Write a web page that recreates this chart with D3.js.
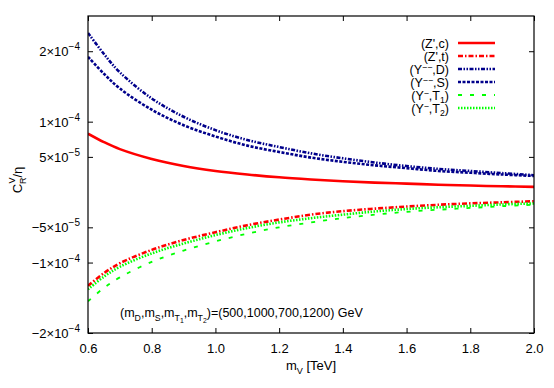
<!DOCTYPE html>
<html>
<head>
<meta charset="utf-8">
<script src="https://cdn.jsdelivr.net/npm/d3@7"></script>
<style>
html,body{margin:0;padding:0;background:#fff;}
svg{display:block;}
text{font-family:"Liberation Sans",Arial,Helvetica,sans-serif;fill:#000;}
</style>
</head>
<body>
<svg id="chart" width="554" height="388"></svg>
<script>
// x values (TeV)
const mV = [0.6,0.65,0.7,0.8,0.9,1.0,1.1,1.2,1.3,1.4,1.5,1.6,1.7,1.8,1.9,2.0];
// series values in units of 1e-6
const ZpC  = [83,71,61,47,37,30,25,21,18,15.5,13.5,12,10.5,9.3,8.3,7.5];
const ZpT  = [-133,-115,-101,-82,-68,-57,-47,-39,-32,-27,-23.5,-20.5,-18,-16,-14.5,-13];
const YmmD = [226,196,170,133,107,88,74,64,55,48,42,37,33,30,27,24];
const YmmS = [192,168,147,117,95,79,66,57,49,43,38,34,30,27.5,25,23];
const YmT1 = [-155,-136,-121,-99,-83,-70,-59,-50,-43,-37,-32,-28,-25,-22.5,-20,-18];
const YmT2 = [-138,-120,-106,-87,-73,-61,-51,-43,-37,-32,-27.5,-24,-21.5,-19.5,-17.5,-16];
const scale = 1e-6;

const xTicks = [0.6,0.8,1.0,1.2,1.4,1.6,1.8,2.0];
const yTicks = [2e-4,1e-4,5e-5,-5e-5,-1e-4,-2e-4];
const yTickLabels = [["2","−4"],["1","−4"],["5","−5"],["−5","−5"],["−1","−4"],["−2","−4"]];

const series = [
  {key:"c",  vals:ZpC,  color:"#ff0000", dash:null,            width:2.6, label:[["(Z',c)",null]]},
  {key:"t",  vals:ZpT,  color:"#ff0000", dash:"5,2,1.5,2",     width:2.6, label:[["(Z',t)",null]]},
  {key:"D",  vals:YmmD, color:"#00008b", dash:"4,1.5,1.5,1.5,1.5,1.5", width:2.6, label:[["(Y",null],["−−","sup"],[",D)",null]]},
  {key:"S",  vals:YmmS, color:"#00008b", dash:"3,1.5",         width:2.6, label:[["(Y",null],["−−","sup"],[",S)",null]]},
  {key:"T1", vals:YmT1, color:"#00ff00", dash:"4,8",           width:1.8, label:[["(Y",null],["−","sup"],[",T",null],["1","sub"],[")",null]]},
  {key:"T2", vals:YmT2, color:"#00ff00", dash:"1.5,1.5",       width:2.6, label:[["(Y",null],["−","sup"],[",T",null],["2","sub"],[")",null]]}
];

const svg = d3.select("#chart");
const L = 88, R = 534, T = 16, B = 333;
const x = d3.scaleLinear().domain([0.6,2.0]).range([L,R]);
const y = d3.scaleLinear().domain([-2e-4,2.5e-4]).range([B,T]);

svg.append("clipPath").attr("id","clip").append("rect")
  .attr("x",L).attr("y",T).attr("width",R-L).attr("height",B-T);

// rich text helper: parts [[text, kind]] kind in null|sup|sub|subsub
function rich(t, parts, fs){
  let base = 0;
  parts.forEach(([txt,kind])=>{
    const target = kind==="sup"?-4:(kind==="sub"?3.5:(kind==="subsub"?6:0));
    const sp = t.append("tspan").text(txt).attr("dy",target-base);
    if(kind==="sup"||kind==="sub") sp.attr("font-size",fs*0.7);
    if(kind==="subsub") sp.attr("font-size",fs*0.55);
    base = target;
  });
}

// axes (ticks inward, mirrored)
const gB = svg.append("g").attr("transform",`translate(0,${B})`)
  .call(d3.axisBottom(x).tickValues(xTicks).tickSizeInner(-5).tickSizeOuter(0).tickPadding(8).tickFormat(d3.format(".1f")));
const gT = svg.append("g").attr("transform",`translate(0,${T})`)
  .call(d3.axisTop(x).tickValues(xTicks).tickSizeInner(-5).tickSizeOuter(0).tickFormat(""));
const gL = svg.append("g").attr("transform",`translate(${L},0)`)
  .call(d3.axisLeft(y).tickValues(yTicks).tickSizeInner(-5).tickSizeOuter(0).tickFormat(""));
const gR = svg.append("g").attr("transform",`translate(${R},0)`)
  .call(d3.axisRight(y).tickValues(yTicks).tickSizeInner(-5).tickSizeOuter(0).tickFormat(""));
[gB,gT,gL,gR].forEach(g=>{
  g.select(".domain").remove();
  g.selectAll(".tick line").attr("stroke","#000").attr("stroke-width",1);
});
gB.selectAll(".tick text").attr("font-size",13).attr("font-family","Liberation Sans, Arial, sans-serif").attr("dy","0.9em");

// y tick labels with superscripts
yTicks.forEach((v,i)=>{
  const t = svg.append("text").attr("x",80).attr("y",y(v)+5).attr("text-anchor","end").attr("font-size",13);
  t.append("tspan").text(yTickLabels[i][0]+"×10");
  t.append("tspan").attr("font-size",10).attr("dy",-6).text(yTickLabels[i][1]);
});

// lines
const line = d3.line().x((d,i)=>x(mV[i])).y(d=>y(d*scale)).curve(d3.curveCatmullRom.alpha(0.5));
const gLines = svg.append("g").attr("clip-path","url(#clip)");
series.forEach(s=>{
  gLines.append("path").attr("d",line(s.vals)).attr("fill","none")
    .attr("stroke",s.color).attr("stroke-width",s.width)
    .attr("stroke-dasharray",s.dash);
});

// frame
svg.append("rect").attr("x",L).attr("y",T).attr("width",R-L).attr("height",B-T)
  .attr("fill","none").attr("stroke","#000").attr("stroke-width",1.2);

// legend
const legY0 = 43, legDy = 13;
series.forEach((s,i)=>{
  const yy = legY0 + i*legDy;
  const t = svg.append("text").attr("x",449).attr("y",yy+4.5).attr("text-anchor","end").attr("font-size",12.5);
  rich(t, s.label, 12.5);
  svg.append("line").attr("x1",458).attr("x2",495).attr("y1",yy).attr("y2",yy)
    .attr("stroke",s.color).attr("stroke-width",s.width).attr("stroke-dasharray",s.dash);
});

// annotation
const ann = svg.append("text").attr("x",120).attr("y",317).attr("font-size",12.5);
rich(ann, [["(m",null],["D","sub"],[",m",null],["S","sub"],[",m",null],["T","sub"],["1","subsub"],[",m",null],["T","sub"],["2","subsub"],[")=(500,1000,700,1200) GeV",null]], 12.5);

// x label
const xl = svg.append("text").attr("x",311).attr("y",370).attr("text-anchor","middle").attr("font-size",13);
rich(xl, [["m",null],["V","sub"],[" [TeV]",null]], 13);

// y label (rotated)
const yl = svg.append("text").attr("transform","translate(22,180) rotate(-90)").attr("text-anchor","middle").attr("font-size",13);
yl.append("tspan").text("C");
yl.append("tspan").attr("font-size",9).attr("dy",4).text("R");
yl.append("tspan").attr("font-size",9).attr("dx",-6).attr("dy",-11).text("V");
yl.append("tspan").attr("dy",7).text("/η");
</script>
</body>
</html>
